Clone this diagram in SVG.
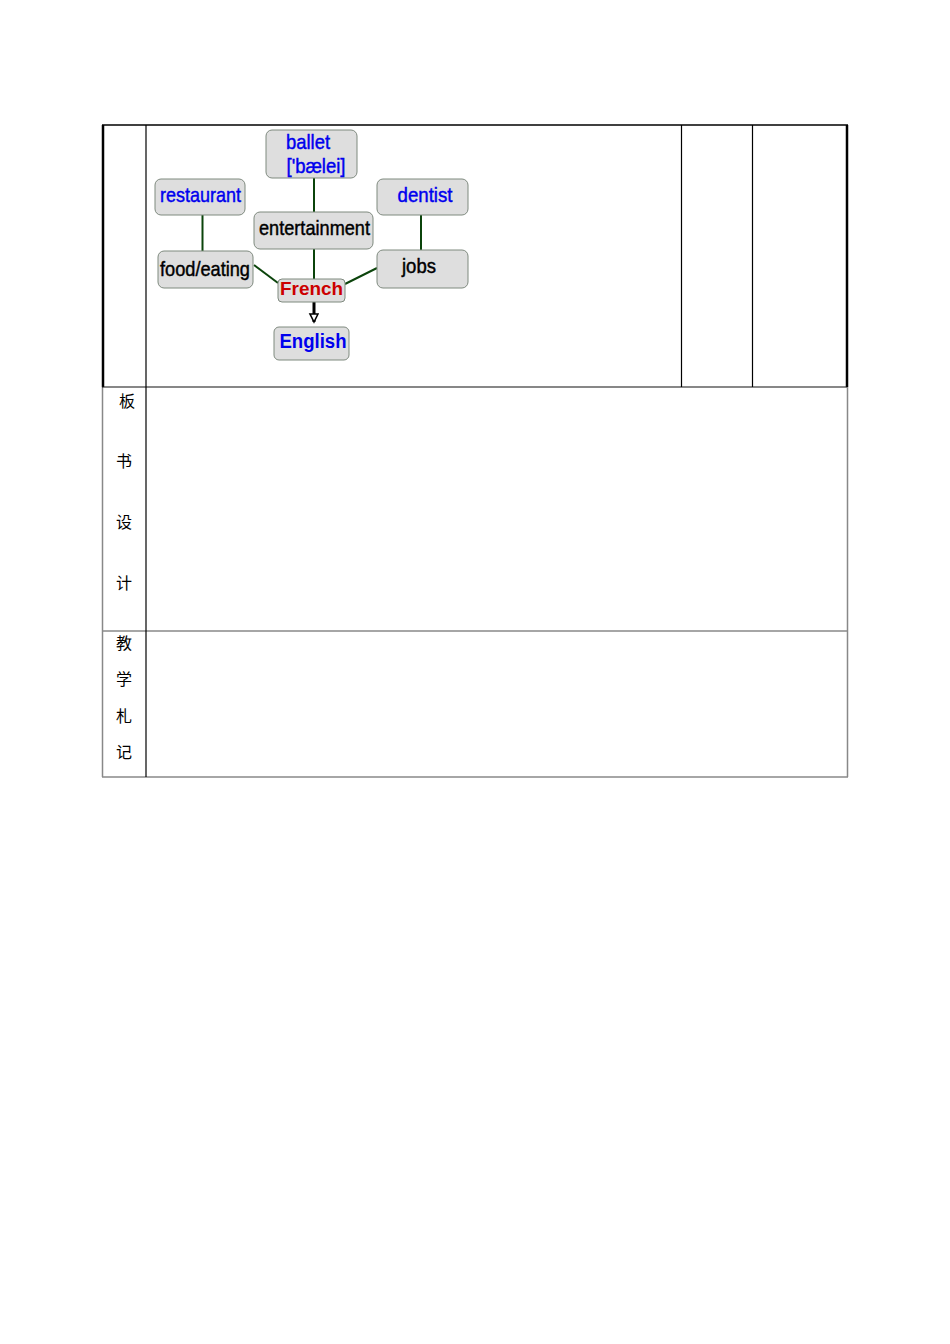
<svg xmlns="http://www.w3.org/2000/svg" width="950" height="1344" viewBox="0 0 950 1344">
<style>
.node rect{fill:#dedede;stroke:#7f8a7f;stroke-width:1}
.t{font-family:"Liberation Sans",Arial,sans-serif;font-size:21px;text-anchor:middle;stroke-width:0.45}
.blue{fill:#0000ee;stroke:#0000ee}
.blk{fill:#000;stroke:#000}
.red{fill:#cc0000;stroke:none;font-weight:bold;font-size:19px}
.eng{fill:#0000ee;stroke:none;font-weight:bold;font-size:20px}
.cn{font-family:"Noto Sans CJK SC","DejaVu Sans",sans-serif;font-size:16px;text-anchor:middle;fill:#000}
.edge{stroke:#0b440b;stroke-width:2;fill:none}
</style>
<defs>
<marker id="ah" markerWidth="12" markerHeight="12" refX="9" refY="5" orient="auto" markerUnits="userSpaceOnUse">
<path d="M1,1 L9,5 L1,9 Z" fill="#fff" stroke="#000" stroke-width="1.6"/>
</marker>
</defs>
<rect width="950" height="1344" fill="#fff"/>
<g id="table">
<line x1="102.5" y1="387" x2="102.5" y2="777" stroke="#888" stroke-width="1.5"/>
<line x1="847.5" y1="387" x2="847.5" y2="777" stroke="#888" stroke-width="1.5"/>
<line x1="103" y1="631" x2="847" y2="631" stroke="#888" stroke-width="1.5"/>
<line x1="102" y1="777" x2="848" y2="777" stroke="#888" stroke-width="1.5"/>
<line x1="102" y1="125" x2="848" y2="125" stroke="#000" stroke-width="1.5"/>
<line x1="103" y1="125" x2="103" y2="387" stroke="#000" stroke-width="2.5"/>
<line x1="847" y1="125" x2="847" y2="387" stroke="#000" stroke-width="2.5"/>
<line x1="102" y1="387" x2="847" y2="387" stroke="#111" stroke-width="1.2"/>
<line x1="146" y1="125" x2="146" y2="777" stroke="#000" stroke-width="1.2"/>
<line x1="681.5" y1="125" x2="681.5" y2="387" stroke="#000" stroke-width="1.2"/>
<line x1="752.5" y1="125" x2="752.5" y2="387" stroke="#000" stroke-width="1.2"/>
<text class="cn" x="127" y="407">板</text>
<text class="cn" x="124" y="467">书</text>
<text class="cn" x="124" y="528">设</text>
<text class="cn" x="124" y="589">计</text>
<text class="cn" x="124" y="649">教</text>
<text class="cn" x="124" y="685">学</text>
<text class="cn" x="124" y="722">札</text>
<text class="cn" x="124" y="758">记</text>
</g>
<g id="connectors">
<line class="edge" x1="314" y1="178" x2="314" y2="212"/>
<line class="edge" x1="202.5" y1="215" x2="202.5" y2="251"/>
<line class="edge" x1="421" y1="215" x2="421" y2="250"/>
<line class="edge" x1="314" y1="249" x2="314" y2="279"/>
<line class="edge" x1="254" y1="265" x2="278" y2="283"/>
<line class="edge" x1="377" y1="268" x2="345" y2="284"/>
<line x1="314" y1="302" x2="314" y2="322" stroke="#000" stroke-width="3" marker-end="url(#ah)"/>
</g>
<g id="n-ballet" class="node"><rect x="266" y="130" width="91" height="48" rx="6"/>
<text class="t blue" x="308" y="149" textLength="44" lengthAdjust="spacingAndGlyphs">ballet</text>
<text class="t blue" x="316" y="173" textLength="59" lengthAdjust="spacingAndGlyphs">['bælei]</text></g>
<g id="n-restaurant" class="node"><rect x="155" y="179" width="90" height="36" rx="6"/>
<text class="t blue" x="200.5" y="202" textLength="81" lengthAdjust="spacingAndGlyphs">restaurant</text></g>
<g id="n-dentist" class="node"><rect x="377" y="179" width="91" height="36" rx="6"/>
<text class="t blue" x="425" y="202" textLength="55" lengthAdjust="spacingAndGlyphs">dentist</text></g>
<g id="n-entertainment" class="node"><rect x="254" y="212" width="119" height="37" rx="6"/>
<text class="t blk" x="314.5" y="235" textLength="111" lengthAdjust="spacingAndGlyphs">entertainment</text></g>
<g id="n-food" class="node"><rect x="158" y="251" width="95" height="37" rx="6"/>
<text class="t blk" x="205" y="276" textLength="90" lengthAdjust="spacingAndGlyphs">food/eating</text></g>
<g id="n-jobs" class="node"><rect x="377" y="250" width="91" height="38" rx="6"/>
<text class="t blk" x="419" y="273" textLength="34" lengthAdjust="spacingAndGlyphs">jobs</text></g>
<g id="n-french" class="node"><rect x="278" y="279" width="67" height="23" rx="4"/>
<text class="t red" x="311.5" y="295" textLength="63" lengthAdjust="spacingAndGlyphs">French</text></g>
<g id="n-english" class="node"><rect x="274" y="327" width="75" height="33" rx="5"/>
<text class="t eng" x="313" y="348" textLength="67" lengthAdjust="spacingAndGlyphs">English</text></g>
</svg>
